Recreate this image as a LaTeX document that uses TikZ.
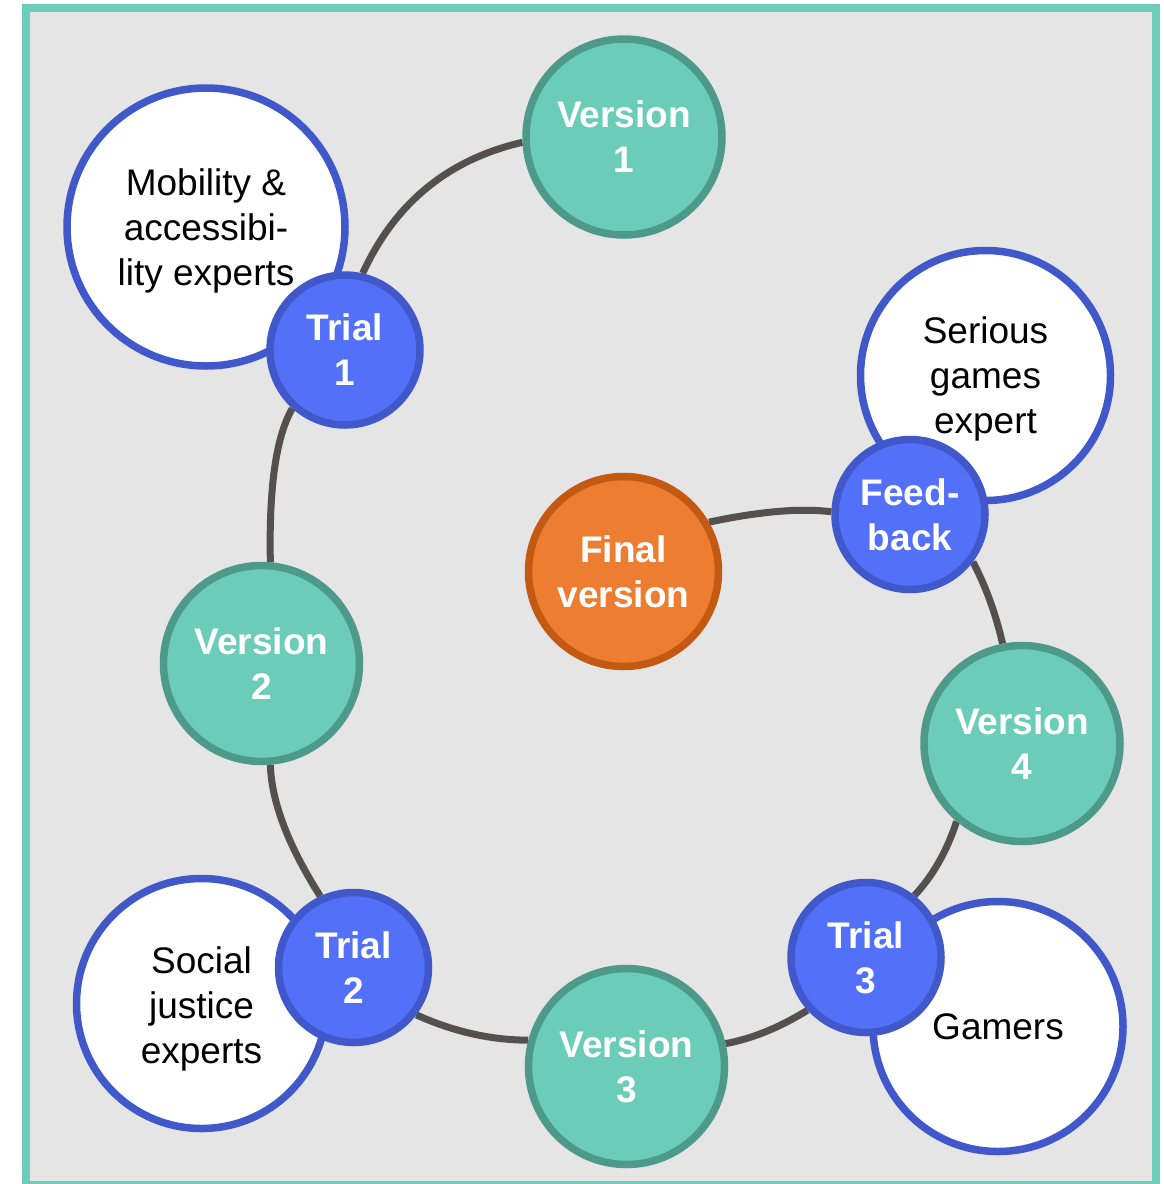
\documentclass[tikz,border=0pt]{standalone}
\usepackage{fontspec}
\setmainfont{Liberation Sans}
\usetikzlibrary{backgrounds,calc}
\definecolor{frameC}{HTML}{6DCDBA}
\definecolor{bgC}{HTML}{E5E5E5}
\definecolor{verF}{HTML}{6BCDB8}
\definecolor{verB}{HTML}{4E9A8A}
\definecolor{triF}{HTML}{5271F8}
\definecolor{triB}{HTML}{4058C9}
\definecolor{orF}{HTML}{ED7D31}
\definecolor{orB}{HTML}{C45A12}
\definecolor{lineC}{HTML}{545050}
\newcommand\qconn[3]{\draw[conn] (#1) .. controls ($(#1)!2/3!(#2)$) and ($(#3)!2/3!(#2)$) .. (#3);}
\begin{document}
\begin{tikzpicture}[x=1pt,y=-1pt,
  basecirc/.style={circle, line width=7.5pt, inner sep=0pt, align=center},
  ver/.style={basecirc, draw=verB, fill=verF, minimum size=196pt, text=white,
    font=\bfseries\fontsize{37}{45}\selectfont},
  fin/.style={basecirc, draw=orB, fill=orF, minimum size=190pt, text=white,
    font=\bfseries\fontsize{37}{45}\selectfont},
  trial/.style={basecirc, draw=triB, fill=triF, minimum size=150pt, text=white,
    font=\bfseries\fontsize{37}{45}\selectfont},
  expert/.style={basecirc, draw=triB, fill=white, minimum size=250pt},
  etext/.style={align=center, inner sep=0pt, text=black,
    font=\fontsize{37}{45}\selectfont},
  conn/.style={draw=lineC, line width=7pt}]
\useasboundingbox (0,0) rectangle (1163,1184);

% experts (drawn under trial nodes)
\node[expert, minimum size=278pt] (mob) at (206,227) {};
\node[etext] (mobt) at (206,231) {Mobility \&\\accessibi-\\lity experts};
\node[expert] (ser) at (985.5,375.5) {};
\node[etext] (sert) at (985.5,379) {Serious\\games\\expert};
\node[expert] (soc) at (201.5,1003.5) {};
\node[etext] (soct) at (201.5,1008.5) {Social\\justice\\experts};
\node[expert] (gam) at (998,1026.5) {};
\node[etext] (gamt) at (998,1027) {Gamers};

% versions
\node[ver] (v1) at (624,137) {Version\\1};
\node[ver] (v2) at (261.5,663.5) {Version\\2};
\node[ver] (v3) at (626.5,1066.5) {Version\\3};
\node[ver] (v4) at (1022,743.5) {Version\\4};
\node[fin] (fin) at (623.5,571.5) {Final\\version};

% trials
\node[trial] (t1) at (345,350) {Trial\\1};
\node[trial] (t2) at (353.5,967.5) {Trial\\2};
\node[trial] (t3) at (866,957.5) {Trial\\3};
\node[trial] (fb) at (910,514.5) {Feed-\\back};

\begin{scope}[on background layer]
\draw[draw=frameC, fill=bgC, line width=8pt] (26,8) rectangle (1155.5,1185);
\qconn{v1.183}{411,168}{t1.77}
\qconn{t1.228}{268,450}{v2.85}
\qconn{v2.275}{272,820}{t2.115}
\qconn{t2.323}{472,1040}{v3.165}
\qconn{v3.13}{766,1036}{t3.222}
\qconn{t3.52}{942,866}{v4.230}
\qconn{v4.101}{992,598}{fb.323}
\qconn{fb.178}{785,506}{fin.30}
\end{scope}
\end{tikzpicture}
\end{document}
